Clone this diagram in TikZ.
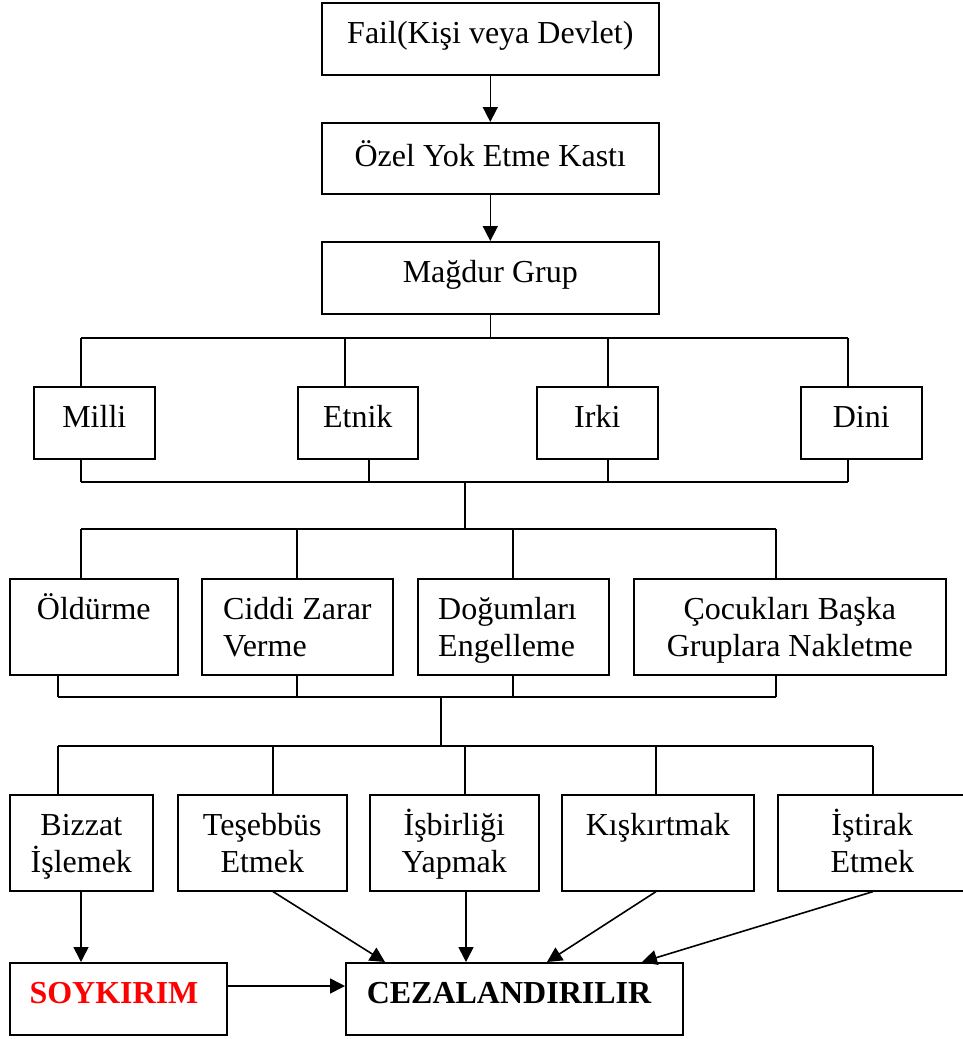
\documentclass[tikz,border=0pt]{standalone}
\usepackage{fontspec}
\setmainfont{Liberation Serif}
\usetikzlibrary{arrows.meta,calc}
\tikzset{
  box/.style={draw=black, line width=1.6pt, rectangle, inner sep=0pt, anchor=north west},
  txt/.style={inner sep=0pt, font=\fontsize{32}{37}\selectfont},
  ln/.style={draw=black, line width=1.6pt},
  arr/.style={draw=black, line width=1.6pt, -{Triangle[length=15pt,width=15pt]}}
}
\begin{document}
\begin{tikzpicture}[x=1pt,y=-1pt]
\useasboundingbox (0,0) rectangle (962,1039);
% ---- boxes
\node[box, minimum width=337pt, minimum height=72pt] (fail) at (321,2) {};
\node[box, minimum width=337pt, minimum height=71pt] (ozel) at (321,122) {};
\node[box, minimum width=337pt, minimum height=72pt] (magdur) at (321,241) {};
\node[box, minimum width=121pt, minimum height=72pt] (milli) at (33,386) {};
\node[box, minimum width=120pt, minimum height=72pt] (etnik) at (297,386) {};
\node[box, minimum width=121pt, minimum height=72pt] (irki) at (536,386) {};
\node[box, minimum width=121pt, minimum height=72pt] (dini) at (800,386) {};
\node[box, minimum width=168pt, minimum height=96pt] (oldurme) at (9,578) {};
\node[box, minimum width=191pt, minimum height=96pt] (ciddi) at (201,578) {};
\node[box, minimum width=191pt, minimum height=96pt] (dogum) at (417,578) {};
\node[box, minimum width=312pt, minimum height=96pt] (cocuk) at (633,578) {};
\node[box, minimum width=143pt, minimum height=96pt] (bizzat) at (9,794) {};
\node[box, minimum width=169pt, minimum height=96pt] (tesebbus) at (177,794) {};
\node[box, minimum width=169pt, minimum height=96pt] (isbirligi) at (369,794) {};
\node[box, minimum width=192pt, minimum height=96pt] (kiskirtmak) at (561,794) {};
\node[box, minimum width=193pt, minimum height=96pt] (istirak) at (777,794) {};
\node[box, minimum width=217pt, minimum height=72pt] (soykirim) at (9,962) {};
\node[box, minimum width=337pt, minimum height=72pt] (ceza) at (345,962) {};
% ---- texts
\node[txt, anchor=base] (t-fail) at ($(fail.north)+(0,41)$) {Fail(Kişi veya Devlet)};
\node[txt, anchor=base] (t-ozel) at ($(ozel.north)+(0,44)$) {Özel Yok Etme Kastı};
\node[txt, anchor=base] (t-magdur) at ($(magdur.north)+(0,41)$) {Mağdur Grup};
\node[txt, anchor=base] (t-milli) at ($(milli.north)+(0,41)$) {Milli};
\node[txt, anchor=base] (t-etnik) at ($(etnik.north)+(0,41)$) {Etnik};
\node[txt, anchor=base] (t-irki) at ($(irki.north)+(0,41)$) {Irki};
\node[txt, anchor=base] (t-dini) at ($(dini.north)+(0,41)$) {Dini};
\node[txt, anchor=base] (t-oldurme) at ($(oldurme.north)+(0,41)$) {Öldürme};
\node[txt, anchor=base west] (t-ciddi1) at ($(ciddi.north west)+(22,41)$) {Ciddi Zarar};
\node[txt, anchor=base west] (t-ciddi2) at ($(ciddi.north west)+(22,78)$) {Verme};
\node[txt, anchor=base west] (t-dogum1) at ($(dogum.north west)+(21,41)$) {Doğumları};
\node[txt, anchor=base west] (t-dogum2) at ($(dogum.north west)+(21,78)$) {Engelleme};
\node[txt, anchor=base] (t-cocuk1) at ($(cocuk.north)+(0,41)$) {Çocukları Başka};
\node[txt, anchor=base] (t-cocuk2) at ($(cocuk.north)+(0,78)$) {Gruplara Nakletme};
\node[txt, anchor=base] (t-bizzat1) at ($(bizzat.north)+(0,41)$) {Bizzat};
\node[txt, anchor=base] (t-bizzat2) at ($(bizzat.north)+(0,78)$) {İşlemek};
\node[txt, anchor=base] (t-teseb1) at ($(tesebbus.north)+(0,41)$) {Teşebbüs};
\node[txt, anchor=base] (t-teseb2) at ($(tesebbus.north)+(0,78)$) {Etmek};
\node[txt, anchor=base] (t-isbir1) at ($(isbirligi.north)+(0,41)$) {İşbirliği};
\node[txt, anchor=base] (t-isbir2) at ($(isbirligi.north)+(0,78)$) {Yapmak};
\node[txt, anchor=base] (t-kisk) at ($(kiskirtmak.north)+(0,41)$) {Kışkırtmak};
\node[txt, anchor=base] (t-istir1) at ($(istirak.north)+(-2,41)$) {İştirak};
\node[txt, anchor=base] (t-istir2) at ($(istirak.north)+(-2,78)$) {Etmek};
\node[txt, anchor=base, text={rgb,255:red,255;green,0;blue,0}, font=\fontsize{32}{37}\selectfont\bfseries] (t-soy) at ($(soykirim.north west)+(105,41)$) {SOYKIRIM};
\node[txt, anchor=base, font=\fontsize{32}{37}\selectfont\bfseries] (t-ceza) at ($(ceza.north west)+(164,41)$) {CEZALANDIRILIR};
% ---- bus coordinates
\coordinate (b1a) at (81,338);  \coordinate (b1b) at (345,338);
\coordinate (b1c) at (608,338); \coordinate (b1d) at (848,338);
\coordinate (b2a) at (81,482);  \coordinate (b2b) at (369,482);
\coordinate (b2c) at (608,482); \coordinate (b2d) at (848,482);
\coordinate (b2m) at (465,482);
\coordinate (b3a) at (81,529);  \coordinate (b3b) at (297,529);
\coordinate (b3c) at (513,529); \coordinate (b3d) at (776,529);
\coordinate (b3m) at (465,529);
\coordinate (b4a) at (58,697);  \coordinate (b4b) at (297,697);
\coordinate (b4c) at (513,697); \coordinate (b4d) at (776,697);
\coordinate (b4m) at (441,697);
\coordinate (b5a) at (58,746);  \coordinate (b5b) at (273,746);
\coordinate (b5c) at (465,746); \coordinate (b5d) at (656,746);
\coordinate (b5e) at (873,746); \coordinate (b5m) at (441,746);
\coordinate (c0) at (81,962);
\coordinate (c1) at (385,962);  \coordinate (c2) at (466,962);
\coordinate (c3) at (547,962);  \coordinate (c4) at (642,962);
\coordinate (c5) at (226,986);
% ---- top arrows
\draw[arr] (fail.south) -- (ozel.north);
\draw[arr] (ozel.south) -- (magdur.north);
% ---- bus 1
\draw[ln] (magdur.south) -- (magdur.south |- b1a);
\draw[ln] (b1a) -- (b1d);
\draw[ln] (b1a) -- (b1a |- milli.north);
\draw[ln] (b1b) -- (b1b |- etnik.north);
\draw[ln] (b1c) -- (b1c |- irki.north);
\draw[ln] (b1d) -- (b1d |- dini.north);
% ---- bus 2 / 3
\draw[ln] (b2a |- milli.south) -- (b2a);
\draw[ln] (b2b |- etnik.south) -- (b2b);
\draw[ln] (b2c |- irki.south) -- (b2c);
\draw[ln] (b2d |- dini.south) -- (b2d);
\draw[ln] (b2a) -- (b2d);
\draw[ln] (b2m) -- (b3m);
\draw[ln] (b3a) -- (b3d);
\draw[ln] (b3a) -- (b3a |- oldurme.north);
\draw[ln] (b3b) -- (b3b |- ciddi.north);
\draw[ln] (b3c) -- (b3c |- dogum.north);
\draw[ln] (b3d) -- (b3d |- cocuk.north);
% ---- bus 4 / 5
\draw[ln] (b4a |- oldurme.south) -- (b4a);
\draw[ln] (b4b |- ciddi.south) -- (b4b);
\draw[ln] (b4c |- dogum.south) -- (b4c);
\draw[ln] (b4d |- cocuk.south) -- (b4d);
\draw[ln] (b4a) -- (b4d);
\draw[ln] (b4m) -- (b5m);
\draw[ln] (b5a) -- (b5e);
\draw[ln] (b5a) -- (b5a |- bizzat.north);
\draw[ln] (b5b) -- (b5b |- tesebbus.north);
\draw[ln] (b5c) -- (b5c |- isbirligi.north);
\draw[ln] (b5d) -- (b5d |- kiskirtmak.north);
\draw[ln] (b5e) -- (b5e |- istirak.north);
% ---- final arrows
\draw[arr] (c0 |- bizzat.south) -- (c0);
\draw[arr] (b5b |- tesebbus.south) -- (c1);
\draw[arr] (c2 |- isbirligi.south) -- (c2);
\draw[arr] (b5d |- kiskirtmak.south) -- (c3);
\draw[arr] (b5e |- istirak.south) -- (c4);
\draw[arr] (c5) -- (c5 -| ceza.west);
\end{tikzpicture}
\end{document}
